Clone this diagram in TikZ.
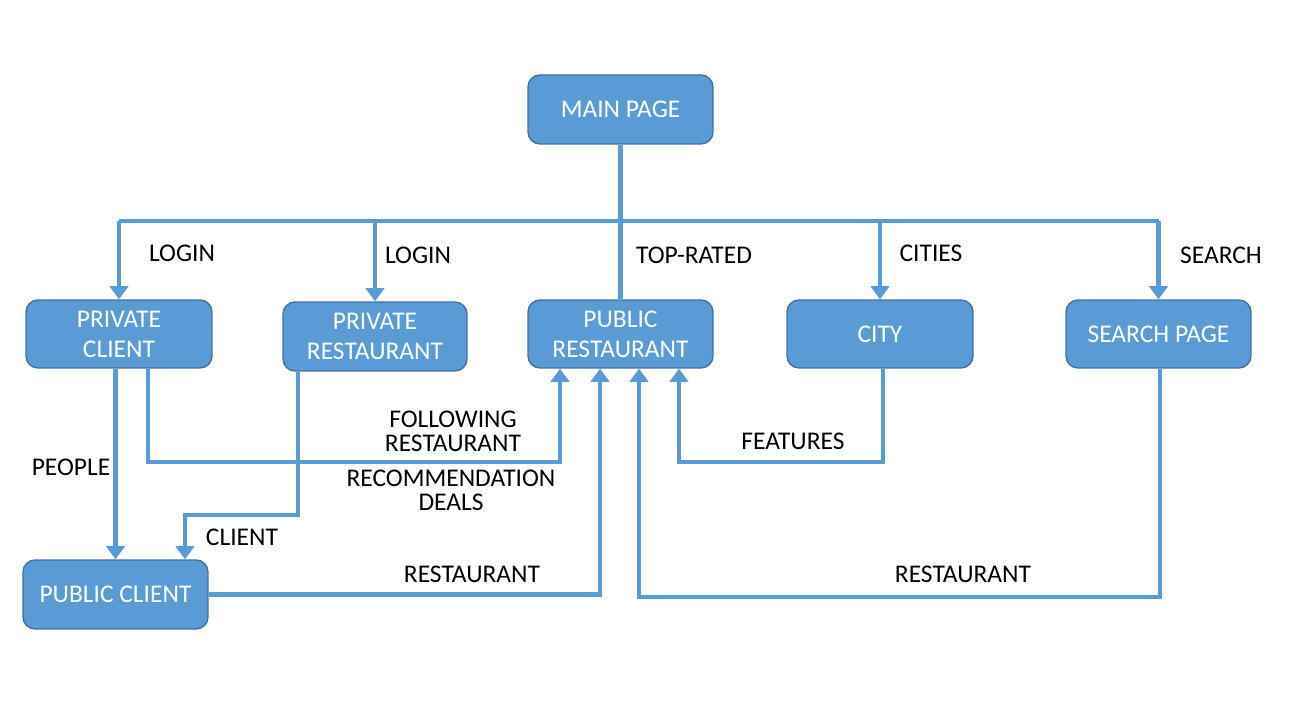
\documentclass[tikz,border=0pt]{standalone}
\usepackage{fontspec}
\setmainfont{Carlito}
\usetikzlibrary{arrows.meta}
\begin{document}
\begin{tikzpicture}[x=0.02cm,y=-0.02cm,
    pagebox/.style={shape=rectangle,draw=pagebox_border,line width=0.8pt,fill=pagebox_fill,rounded corners=0.24cm,text=white,align=center,font=\fontsize{14.5}{17}\selectfont,minimum width=3.7cm,minimum height=1.36cm,inner sep=0pt},
    linklabel/.style={align=center,font=\fontsize{14.5}{13.5}\selectfont,inner sep=0pt},
    link/.style={draw=pagebox_fill,line width=2.3pt},
    linkarrow/.style={link,-{Triangle[width=10.5pt,length=7.5pt]}}]
    \definecolor{pagebox_fill}{RGB}{91,155,213}
    \definecolor{pagebox_border}{RGB}{65,113,156}
    \useasboundingbox (0,0) rectangle (1299,715);
    \node[pagebox,minimum height=1.38cm]                    (main)      at (620.5,109.5) {MAIN PAGE};
    \node[pagebox,minimum width=3.72cm]                     (pclient)   at (119,334)     {PRIVATE\\CLIENT};
    \node[pagebox,minimum width=3.68cm,minimum height=1.38cm] (prest)   at (375,336.5)   {PRIVATE\\RESTAURANT};
    \node[pagebox]                                          (pubrest)   at (620.5,334)   {PUBLIC\\RESTAURANT};
    \node[pagebox,minimum width=3.72cm]                     (city)      at (880,334)     {CITY};
    \node[pagebox]                                          (search)    at (1158.5,334)  {SEARCH PAGE};
    \node[pagebox,minimum height=1.38cm]                    (pubclient) at (115.5,594.5) {PUBLIC CLIENT};
    % menu bus under the main page
    \coordinate (bus) at (620,221);
    \draw[link] (main.south) -- (pubrest.north);
    \draw[link] (pclient.north |- bus) -- (search.north |- bus);
    \draw[linkarrow] (pclient.north |- bus) -- (pclient.north);
    \draw[linkarrow] (prest.north |- bus) -- (prest.north);
    \draw[linkarrow] (city.north |- bus) -- (city.north);
    \draw[linkarrow] (search.north |- bus) -- (search.north);
    % links into the public pages
    \draw[linkarrow] (pubclient.north |- pclient.south) -- (pubclient.north);
    \draw[linkarrow] ([xshift=0.58cm]pclient.south) -- ++(0,93) -| ([xshift=-1.21cm]pubrest.south);
    \draw[linkarrow] ([xshift=-1.54cm]prest.south) -- ++(0,143) -| ([xshift=1.39cm]pubclient.north);
    \draw[linkarrow] (pubclient.east) -| ([xshift=-0.41cm]pubrest.south);
    \draw[linkarrow] ([xshift=0.06cm]city.south) -- ++(0,93) -| ([xshift=1.17cm]pubrest.south);
    \draw[linkarrow] ([xshift=0.03cm]search.south) -- ++(0,228) -| ([xshift=0.37cm]pubrest.south);
    % labels
    \node[linklabel] (login_a)   at (182,253) {LOGIN};
    \node[linklabel] (login_b)   at (418,255) {LOGIN};
    \node[linklabel] (toprated)  at (694,255) {TOP-RATED};
    \node[linklabel] (cities)    at (931,253) {CITIES};
    \node[linklabel] (searchlbl) at (1221,255) {SEARCH};
    \node[linklabel] (people)    at (71,467)  {PEOPLE};
    \node[linklabel] (following) at (453,431) {FOLLOWING\\RESTAURANT};
    \node[linklabel] (recommend) at (451,490) {RECOMMENDATION\\DEALS};
    \node[linklabel] (client)    at (242,537) {CLIENT};
    \node[linklabel] (rest_a)    at (472,574) {RESTAURANT};
    \node[linklabel] (rest_b)    at (963,574) {RESTAURANT};
    \node[linklabel] (features)  at (793,441) {FEATURES};
\end{tikzpicture}
\end{document}
